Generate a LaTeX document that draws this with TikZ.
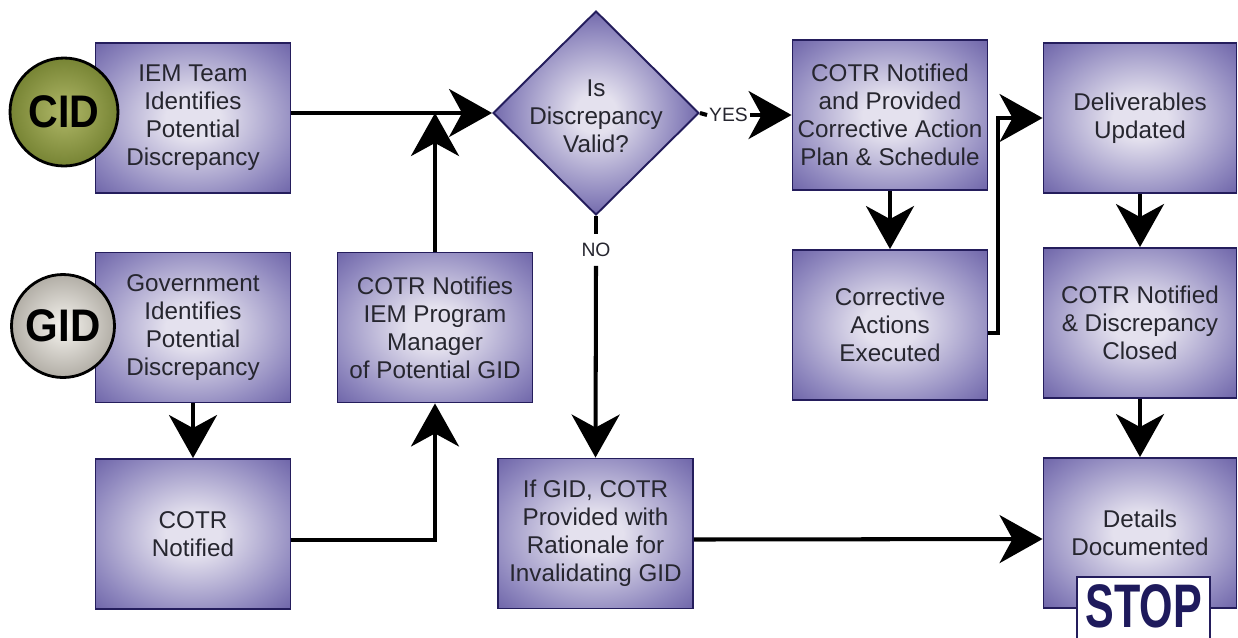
\documentclass[tikz,border=0pt]{standalone}
\usepackage{fontspec}
\setmainfont{Liberation Sans}
\usetikzlibrary{shapes.geometric,arrows.meta,calc}

\definecolor{boxin}{HTML}{E4E1EE}
\definecolor{boxmid}{HTML}{9089BF}
\definecolor{boxout}{HTML}{514696}
\definecolor{boxdeep}{HTML}{3A3080}
\definecolor{boxline}{HTML}{241D5C}
\definecolor{txt}{HTML}{26262F}
\definecolor{cidin}{HTML}{B0B868}
\definecolor{cidout}{HTML}{778434}
\definecolor{gidin}{HTML}{F6F4EF}
\definecolor{gidout}{HTML}{B2AEA6}
\definecolor{stoptxt}{HTML}{1E1A5C}

% soft vignette for the process boxes
\pgfdeclareradialshading{boxshade}{\pgfpoint{0bp}{0bp}}{%
  color(0bp)=(boxin); color(7bp)=(boxin); color(27bp)=(boxmid);
  color(43bp)=(boxout); color(56bp)=(boxdeep); color(100bp)=(boxdeep)}
% same vignette, tightened for the decision diamond
\pgfdeclareradialshading{diashade}{\pgfpoint{0bp}{0bp}}{%
  color(0bp)=(boxin); color(5bp)=(boxin); color(20bp)=(boxmid);
  color(31bp)=(boxout); color(42bp)=(boxdeep); color(100bp)=(boxdeep)}

\begin{document}
\begin{tikzpicture}[x=0.02cm,y=-0.02cm,
  stepbox/.style={draw=boxline, line width=1.1pt, shading=boxshade,
    minimum width=3.9cm, minimum height=3cm, inner sep=0pt, align=center,
    text=txt, font=\fontsize{13.8}{16}\selectfont},
  decision/.style={diamond, draw=boxline, line width=1.1pt, shading=diashade,
    minimum width=4.12cm, minimum height=4.08cm, inner sep=0pt},
  dtext/.style={align=center, text=txt, font=\fontsize{13.8}{16}\selectfont},
  tag/.style={text=txt, font=\fontsize{11}{12}\selectfont},
  badge/.style={circle, draw=black, line width=1.6pt, inner sep=0pt,
    text=black, font=\fontsize{26}{28}\selectfont\bfseries},
  stoptext/.style={inner sep=0pt, text=stoptxt, font=\fontsize{35}{37}\selectfont\bfseries},
  stopframe/.style={draw=boxline, line width=1.2pt, fill=white},
  link/.style={line width=2.3pt, draw=black},
  flow/.style={link, -{Stealth[length=0.86cm,width=0.96cm,inset=0.26cm]}}]

\clip (0,0) rectangle (1238,637);
\fill[white] (0,0) rectangle (1238,637);

% left column
\node[stepbox] (cid) at (193,118) {IEM Team\\Identifies\\Potential\\Discrepancy};
\node[stepbox] (gid) at (193,327.5) {Government\\Identifies\\Potential\\Discrepancy};
\node[stepbox] (cotr) at (193,534) {COTR\\Notified};

% second column
\node[stepbox] (notify) at (435,327.5) {COTR Notifies\\IEM Program\\Manager\\of Potential GID};

% decision and its outcomes
\node[decision] (dia) at (596,113) {};
\node[dtext] (diatext) at (596,116) {Is\\Discrepancy\\Valid?};
\node[stepbox] (ifgid) at (595.5,533.5) {If GID, COTR\\Provided with\\Rationale for\\Invalidating GID};

% right side
\node[stepbox] (plan) at (890,115) {COTR Notified\\and Provided\\Corrective Action\\Plan \& Schedule};
\node[stepbox] (corr) at (890,325) {Corrective\\Actions\\Executed};
\node[stepbox, minimum width=3.86cm] (deliv) at (1140,118) {Deliverables\\Updated};
\node[stepbox, minimum width=3.86cm] (closed) at (1140,323) {COTR Notified\\\& Discrepancy\\Closed};
\node[stepbox, minimum width=3.86cm] (details) at (1140,533) {Details\\Documented};

% open-bottomed STOP tab over the last box
\path[stopframe] (1077,640) |- (1210,577) -- (1210,640);
\node[stoptext] (stop) at (1143.5,606) {\scalebox{0.7}[1]{STOP}};

% origin badges
\node[badge, minimum size=2.16cm, inner color=cidin, outer color=cidout] (cidc) at (64,112) {\scalebox{0.9}[1]{CID}};
\node[badge, minimum size=2.06cm, inner color=gidin, outer color=gidout] (gidc) at (63,326) {\scalebox{0.92}[1]{GID}};

% branch labels
\node[tag, inner sep=1pt] (yes) at (728.5,115) {YES};
\node[tag, inner sep=5pt] (no) at (596,250) {NO};

% connectors
\draw[flow] (cid.east |- dia.west) -- (dia.west);
\draw[flow] (notify.north) -- (notify.north |- dia.west);
\draw[flow] (gid.south) -- (cotr.north);
\draw[flow] ([yshift=-0.12cm]cotr.east) -| (notify.south);
\draw[link] (dia.east) -- (yes.west);
\draw[flow] (yes.east) -- (plan.west);
\draw[link] (dia.south) -- (no.north);
\draw[flow] (no.south) -- (ifgid.north);
\draw[flow] ([yshift=-0.12cm]ifgid.east) -- ([yshift=-0.12cm]details.west);
\draw[flow] (plan.south) -- (corr.north);
\draw[flow] ([yshift=-0.16cm]corr.east) -- ++(10,0) |- (deliv.west);
\draw[flow] (deliv.south) -- (closed.north);
\draw[flow] (closed.south) -- (details.north);
\end{tikzpicture}
\end{document}
